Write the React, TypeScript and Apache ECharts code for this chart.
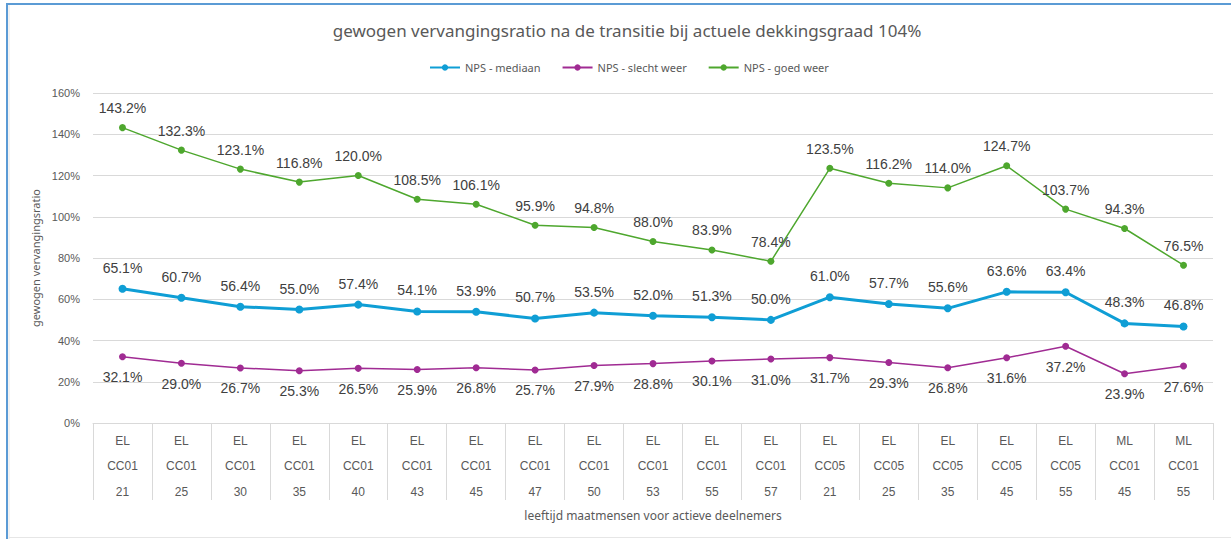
import React, { useEffect, useRef } from "react";
import * as echarts from "echarts";

const categories = [
  "EL\nCC01\n21", "EL\nCC01\n25", "EL\nCC01\n30", "EL\nCC01\n35", "EL\nCC01\n40",
  "EL\nCC01\n43", "EL\nCC01\n45", "EL\nCC01\n47", "EL\nCC01\n50", "EL\nCC01\n53",
  "EL\nCC01\n55", "EL\nCC01\n57", "EL\nCC05\n21", "EL\nCC05\n25", "EL\nCC05\n35",
  "EL\nCC05\n45", "EL\nCC05\n55", "ML\nCC01\n45", "ML\nCC01\n55",
];
const mediaan = [65.1, 60.7, 56.4, 55.0, 57.4, 54.1, 53.9, 50.7, 53.5, 52.0, 51.3, 50.0, 61.0, 57.7, 55.6, 63.6, 63.4, 48.3, 46.8];
const slechtWeer = [32.1, 29.0, 26.7, 25.3, 26.5, 25.9, 26.8, 25.7, 27.9, 28.8, 30.1, 31.0, 31.7, 29.3, 26.8, 31.6, 37.2, 23.9, 27.6];
const goedWeer = [143.2, 132.3, 123.1, 116.8, 120.0, 108.5, 106.1, 95.9, 94.8, 88.0, 83.9, 78.4, 123.5, 116.2, 114.0, 124.7, 103.7, 94.3, 76.5];

const TEXT = "#595959";
const LABEL = "#404040";
const GRID = "#d9d9d9";

export default function App() {
  const ref = useRef<HTMLDivElement>(null);
  useEffect(() => {
    if (!ref.current) return;
    const chart = echarts.init(ref.current, null, { renderer: "svg" });
    const lbl = (pos: string, dist: number) => ({
      show: true,
      position: pos,
      distance: dist,
      fontFamily: "Liberation Sans",
      fontSize: 14,
      color: LABEL,
      formatter: (p: any) => p.value.toFixed(1) + "%",
    });
    chart.setOption({
      animation: false,
      backgroundColor: "#ffffff",
      title: {
        text: "gewogen vervangingsratio na de transitie bij actuele dekkingsgraad 104%",
        left: 622,
        textAlign: "center",
        top: 17,
        textStyle: { fontFamily: "Noto Sans", fontSize: 17, fontWeight: "normal", color: TEXT },
      },
      legend: {
        top: 57,
        left: 424,
        itemGap: 21,
        itemWidth: 30,
        itemHeight: 8,
        textStyle: { fontFamily: "Noto Sans", fontSize: 11, color: TEXT },
        data: ["NPS - mediaan", "NPS - slecht weer", "NPS - goed weer"],
      },
      grid: { left: 93, right: 18, top: 93, bottom: 116, containLabel: false },
      xAxis: {
        type: "category",
        data: categories,
        boundaryGap: true,
        name: "leeftijd maatmensen voor actieve deelnemers",
        nameLocation: "middle",
        nameGap: 80,
        nameTextStyle: { fontFamily: "Noto Sans", fontSize: 12, color: TEXT },
        axisLine: { show: true, lineStyle: { color: GRID, width: 1 } },
        axisTick: { show: true, interval: 0, length: 77, lineStyle: { color: GRID, width: 1 } },
        axisLabel: {
          interval: 0,
          margin: 5,
          fontFamily: "Liberation Sans",
          fontSize: 12,
          lineHeight: 25.5,
          color: TEXT,
        },
      },
      yAxis: {
        type: "value",
        min: 0,
        max: 160,
        interval: 20,
        name: "gewogen vervangingsratio",
        nameLocation: "middle",
        nameGap: 51,
        nameTextStyle: { fontFamily: "Noto Sans", fontSize: 11, color: TEXT },
        axisLine: { show: false },
        axisTick: { show: false },
        axisLabel: {
          margin: 13,
          fontFamily: "Liberation Sans",
          fontSize: 11,
          color: TEXT,
          formatter: "{value}%",
        },
        splitLine: { lineStyle: { color: GRID, width: 1 } },
      },
      series: [
        {
          name: "NPS - mediaan",
          type: "line",
          data: mediaan,
          color: "#0F9ED5",
          lineStyle: { width: 3 },
          symbol: "circle",
          symbolSize: 8,
          label: lbl("top", 10),
          z: 3,
        },
        {
          name: "NPS - slecht weer",
          type: "line",
          data: slechtWeer,
          color: "#A02B93",
          lineStyle: { width: 1.5 },
          symbol: "circle",
          symbolSize: 7,
          label: lbl("bottom", 10),
        },
        {
          name: "NPS - goed weer",
          type: "line",
          data: goedWeer,
          color: "#4EA72E",
          lineStyle: { width: 1.5 },
          symbol: "circle",
          symbolSize: 7,
          label: lbl("top", 9),
        },
      ],
      graphic: [
        { type: "rect", shape: { x: 6, y: 3, width: 1231, height: 2 }, style: { fill: "#5b9bd5" }, silent: true },
        { type: "rect", shape: { x: 6, y: 3, width: 2, height: 540 }, style: { fill: "#5b9bd5" }, silent: true },
        { type: "line", shape: { x1: 9, y1: 5, x2: 9, y2: 539 }, style: { stroke: "#e6e6e6", lineWidth: 1 }, silent: true },
        { type: "line", shape: { x1: 9, y1: 537.5, x2: 1231, y2: 537.5 }, style: { stroke: "#e6e6e6", lineWidth: 1 }, silent: true },
      ],
    });
    return () => chart.dispose();
  }, []);
  return <div ref={ref} style={{ position: "fixed", left: 0, top: 0, width: 1231, height: 539 }} />;
}
